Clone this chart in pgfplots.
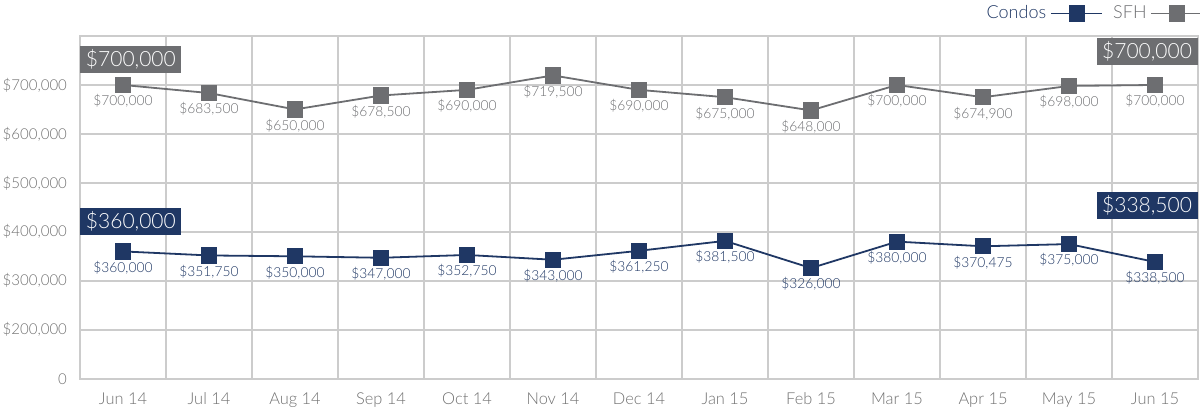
\documentclass[border=0pt]{standalone}
\usepackage{pgfplots}
\pgfplotsset{compat=1.18}
\usepackage{fontspec}
\setmainfont{Lato Light}
\definecolor{navy}{HTML}{1F3764}
\definecolor{sfh}{HTML}{6D6E71}
\definecolor{gridc}{HTML}{CCCCCC}
\definecolor{tickc}{HTML}{707070}
\begin{document}
\begin{tikzpicture}
\begin{axis}[
  name=ax,
  at={(0,0)}, anchor=south west,
  scale only axis, width=559pt, height=171.35pt,
  xmin=-0.5, xmax=12.5, ymin=100000, ymax=800000,
  scaled y ticks=false,
  xtick={0,...,12},
  xticklabels={Jun 14,Jul 14,Aug 14,Sep 14,Oct 14,Nov 14,Dec 14,Jan 15,Feb 15,Mar 15,Apr 15,May 15,Jun 15},
  minor xtick={0.5,1.5,...,11.5},
  xminorgrids,
  ytick={100000,200000,300000,400000,500000,600000,700000},
  yticklabels={0,{\$200,000},{\$300,000},{\$400,000},{\$500,000},{\$600,000},{\$700,000}},
  ymajorgrids,
  major tick length=0pt, minor tick length=0pt,
  grid style={draw=gridc, line width=0.8pt},
  minor grid style={draw=gridc, line width=0.8pt},
  axis line style={draw=gridc, line width=0.8pt},
  tick label style={font=\fontsize{8.2}{9}\selectfont, text=tickc},
  yticklabel style={xshift=-3pt, font=\fontsize{7.5}{9}\selectfont},
  xticklabel style={yshift=-3.5pt},
  legend plot pos=right,
  legend columns=2,
  legend style={draw=none, fill=none, at={(1,1)}, anchor=south east, yshift=3pt, xshift=6pt,
    font=\fontsize{9}{10}\selectfont,
    /tikz/every even column/.append style={column sep=3pt}},
  legend image code/.code={\draw[mark repeat=2,mark phase=2,#1] plot coordinates {(0cm,0cm)(0.45cm,0cm)(0.9cm,0cm)};},
  nodes near coords={\$\pgfplotspointmeta},
  point meta=explicit symbolic,
  every node near coord/.append style={font=\fontsize{6.9}{8}\selectfont, anchor=north, yshift=-1pt},
]
\addplot[navy, line width=0.9pt, mark=square*, mark size=3.6pt, mark options={fill=navy, draw=navy},
  every node near coord/.append style={text=navy}]
  table[meta=l] {
x y l
0 360000 360,000
1 351750 351,750
2 350000 350,000
3 347000 347,000
4 352750 352,750
5 343000 343,000
6 361250 361,250
7 381500 381,500
8 326000 326,000
9 380000 380,000
10 370475 370,475
11 375000 375,000
12 338500 338,500
};
\addlegendentry{\textcolor{navy}{Condos}}
\addplot[sfh, line width=0.9pt, mark=square*, mark size=3.6pt, mark options={fill=sfh, draw=sfh},
  every node near coord/.append style={text=sfh}]
  table[meta=l] {
x y l
0 700000 700,000
1 683500 683,500
2 650000 650,000
3 678500 678,500
4 690000 690,000
5 719500 719,500
6 690000 690,000
7 675000 675,000
8 648000 648,000
9 700000 700,000
10 674900 674,900
11 698000 698,000
12 700000 700,000
};
\addlegendentry{\textcolor{sfh}{SFH}}
\node[fill=sfh, text=white, anchor=north west, minimum width=50.5pt, minimum height=13.5pt, inner sep=0pt, font=\fontsize{10.5}{12}\selectfont] at (axis cs:-0.5,780200) {\$700,000};
\node[fill=sfh, text=white, anchor=north east, minimum width=50.5pt, minimum height=13.5pt, inner sep=0pt, font=\fontsize{10.5}{12}\selectfont] at (axis cs:12.5,796500) {\$700,000};
\node[fill=navy, text=white, anchor=north west, minimum width=50.5pt, minimum height=13.5pt, inner sep=0pt, font=\fontsize{10.5}{12}\selectfont] at (axis cs:-0.5,450100) {\$360,000};
\node[fill=navy, text=white, anchor=north east, minimum width=50.5pt, minimum height=13.5pt, inner sep=0pt, font=\fontsize{10.5}{12}\selectfont] at (axis cs:12.5,482000) {\$338,500};
\end{axis}
\pgfresetboundingbox
\path ([shift={(-40pt,-14.65pt)}]ax.south west) rectangle ([shift={(560pt,189.35pt)}]ax.south west);
\end{tikzpicture}
\end{document}
